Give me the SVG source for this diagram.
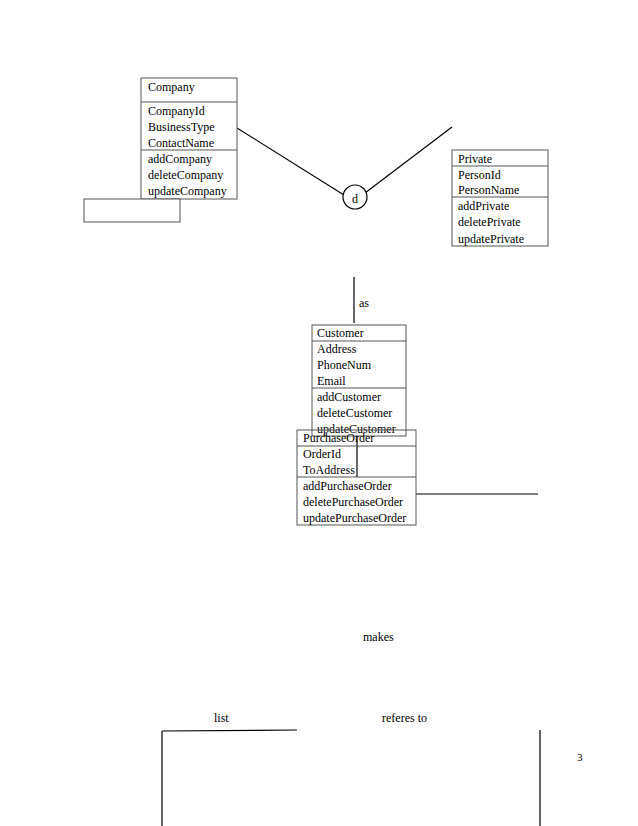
<svg xmlns="http://www.w3.org/2000/svg" width="638" height="826" viewBox="0 0 638 826">
<style>
text{font-family:"Liberation Serif",serif;font-size:12px;fill:#000}
.b{fill:#fff;stroke:#555;stroke-width:1}
.l{stroke:#000;stroke-width:1.2;fill:none}
.d{stroke:#555;stroke-width:1}
</style>
<rect width="638" height="826" fill="#fff"/>
<g id="connectors">
<line class="l" x1="237" y1="128" x2="344" y2="195"/>
<line class="l" x1="365" y1="193" x2="452" y2="127"/>
<line class="l" x1="354" y1="277" x2="354" y2="323"/>
<line class="l" x1="357" y1="436" x2="357" y2="477"/>
<line class="l" x1="416" y1="494" x2="538" y2="494"/>
<line class="l" x1="162" y1="731" x2="297" y2="730"/>
<line class="l" x1="162" y1="731" x2="162" y2="826"/>
<line class="l" x1="540" y1="730" x2="540" y2="826"/>
</g>
<g id="company">
<rect class="b" x="141" y="78" width="96" height="121"/>
<line class="d" x1="141" y1="102" x2="237" y2="102"/>
<line class="d" x1="141" y1="150" x2="237" y2="150"/>
<text x="148" y="91">Company</text>
<text x="148" y="115">CompanyId</text>
<text x="148" y="131">BusinessType</text>
<text x="148" y="147">ContactName</text>
<text x="148" y="163">addCompany</text>
<text x="148" y="179">deleteCompany</text>
<text x="148" y="195">updateCompany</text>
</g>
<g id="emptybox"><rect class="b" x="84" y="199" width="96" height="23"/></g>
<g id="d"><circle cx="355" cy="197" r="12" fill="#fff" stroke="#000" stroke-width="1.2"/><text x="352" y="203">d</text></g>
<g id="private">
<rect class="b" x="452" y="150" width="96" height="96"/>
<line class="d" x1="452" y1="166" x2="548" y2="166"/>
<line class="d" x1="452" y1="197" x2="548" y2="197"/>
<text x="458" y="163">Private</text>
<text x="458" y="179">PersonId</text>
<text x="458" y="194">PersonName</text>
<text x="458" y="210">addPrivate</text>
<text x="458" y="226">deletePrivate</text>
<text x="458" y="243">updatePrivate</text>
</g>
<g id="as"><text x="359" y="307">as</text></g>
<g id="customer">
<rect class="b" x="312" y="325" width="94" height="111"/>
<line class="d" x1="312" y1="341" x2="406" y2="341"/>
<line class="d" x1="312" y1="388" x2="406" y2="388"/>
<text x="317" y="337">Customer</text>
<text x="317" y="353">Address</text>
<text x="317" y="369">PhoneNum</text>
<text x="317" y="385">Email</text>
<text x="317" y="401">addCustomer</text>
<text x="317" y="417">deleteCustomer</text>
<text x="317" y="433">updateCustomer</text>
</g>
<g id="purchaseorder">
<rect x="297" y="430" width="119" height="95" fill="none" stroke="#555"/>
<line class="d" x1="297" y1="446" x2="416" y2="446"/>
<line class="d" x1="297" y1="477" x2="416" y2="477"/>
<text x="303" y="442">PurchaseOrder</text>
<text x="303" y="458">OrderId</text>
<text x="303" y="474">ToAddress</text>
<text x="303" y="490">addPurchaseOrder</text>
<text x="303" y="506">deletePurchaseOrder</text>
<text x="303" y="522">updatePurchaseOrder</text>
</g>
<g id="labels">
<text x="363" y="641">makes</text>
<text x="214" y="722">list</text>
<text x="382" y="722">referes to</text>
<text x="577" y="761" style="font-size:11px">3</text>
</g>
</svg>
